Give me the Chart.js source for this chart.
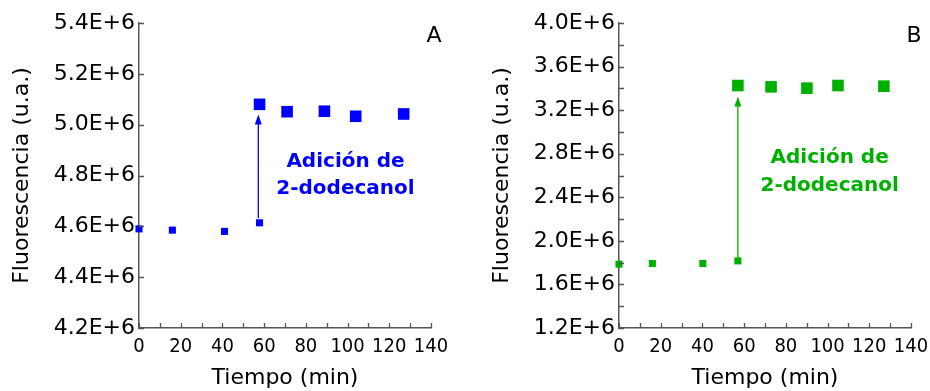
<!DOCTYPE html>
<html>
<head>
<meta charset="utf-8">
<script src="https://cdn.jsdelivr.net/npm/chart.js@4.4.0/dist/chart.umd.min.js"></script>
<style>
  html, body { margin: 0; padding: 0; background: #fff; }
  #wrap { position: relative; width: 930px; height: 391px; overflow: hidden; }
  canvas { position: absolute; top: 0; }
  #cA { left: 0; }
  #cB { left: 480px; }
</style>
</head>
<body>
<div id="wrap">
  <canvas id="cA" width="450" height="391"></canvas>
  <canvas id="cB" width="450" height="391"></canvas>
</div>
<script>
// ---- Data ----
const tiempoA_antes = [0, 16, 41, 57.8];
const fluorA_antes = [4.590e6, 4.585e6, 4.580e6, 4.614e6];
const tiempoA_despues = [57.8, 71, 88.9, 103.9, 126.9];
const fluorA_despues = [5.080e6, 5.051e6, 5.053e6, 5.033e6, 5.042e6];

const tiempoB_antes = [0, 16, 40.2, 57];
const fluorB_antes = [1.786e6, 1.792e6, 1.792e6, 1.816e6];
const tiempoB_despues = [57, 72.9, 90.1, 105, 127];
const fluorB_despues = [3.426e6, 3.414e6, 3.402e6, 3.426e6, 3.420e6];

// axis ranges / ticks
const xRange = [0, 140];
const xStep = 20;
const yRangeA = [4.2e6, 5.4e6];
const yStepA = 0.2e6;
const yRangeB = [1.2e6, 4.0e6];
const yStepB = 0.4e6;

// annotations (data coordinates)
const arrowA = { x: 57.2, y0: 4.632e6, y1: 5.040e6 };
const arrowB = { x: 57.0, y0: 1.840e6, y1: 3.325e6 };
const textLines = ["Adición de", "2-dodecanol"];
const textA = { x: 99, y: [4.853e6, 4.746e6] };
const textB = { x: 101, y: [2.76e6, 2.51e6] };

const BLUE = '#0000ff';
const GREEN = '#00b000';
const AXIS = '#555555';

function pts(xs, ys) { return xs.map((x, i) => ({ x: x, y: ys[i] })); }

const decorPlugin = {
  id: 'decor',
  afterDatasetsDraw(chart, args, opts) {
    const ctx = chart.ctx;
    const xs = chart.scales.x, ys = chart.scales.y;
    const ca = chart.chartArea;
    ctx.save();
    // inward ticks
    ctx.strokeStyle = AXIS;
    ctx.lineWidth = 1.3;
    ctx.beginPath();
    for (let v = xs.min; v <= xs.max + 1e-9; v += opts.xMinor) {
      const px = Math.round(xs.getPixelForValue(v)) + 0.5;
      ctx.moveTo(px, ca.bottom);
      ctx.lineTo(px, ca.bottom - 5);
    }
    for (let v = ys.min; v <= ys.max + 1; v += opts.yMinor) {
      const py = Math.round(ys.getPixelForValue(v)) + 0.5;
      ctx.moveTo(ca.left, py);
      ctx.lineTo(ca.left + 5, py);
    }
    ctx.stroke();

    // arrow
    const a = opts.arrow;
    const ax = xs.getPixelForValue(a.x);
    const ay0 = ys.getPixelForValue(a.y0);
    const ay1 = ys.getPixelForValue(a.y1);
    ctx.strokeStyle = opts.color;
    ctx.fillStyle = opts.color;
    ctx.lineWidth = 1.3;
    ctx.beginPath();
    ctx.moveTo(ax, ay0);
    ctx.lineTo(ax, ay1 + 8);
    ctx.stroke();
    ctx.beginPath();
    ctx.moveTo(ax, ay1);
    ctx.lineTo(ax - 3.5, ay1 + 10);
    ctx.lineTo(ax + 3.5, ay1 + 10);
    ctx.closePath();
    ctx.fill();

    // text
    ctx.font = 'bold 20px "DejaVu Sans"';
    ctx.textAlign = 'center';
    ctx.textBaseline = 'middle';
    const tx = xs.getPixelForValue(opts.text.x);
    textLines.forEach((t, i) => {
      ctx.fillText(t, tx, ys.getPixelForValue(opts.text.y[i]));
    });

    // panel letter
    ctx.fillStyle = '#000';
    ctx.font = '22px "DejaVu Sans"';
    ctx.fillText(opts.letter, ca.right + 3, ca.top + 13);
    ctx.restore();
  }
};

function makeChart(id, color, antesX, antesY, despX, despY, yRange, yStep, yMinor, arrow, text, letter) {
  return new Chart(document.getElementById(id), {
    type: 'scatter',
    data: {
      datasets: [
        { data: pts(antesX, antesY), pointStyle: 'rect', pointRadius: 5, pointHoverRadius: 5,
          backgroundColor: color, borderWidth: 0, showLine: false, clip: false },
        { data: pts(despX, despY), pointStyle: 'rect', pointRadius: 8.2, pointHoverRadius: 8.2,
          backgroundColor: color, borderWidth: 0, showLine: false, clip: false }
      ]
    },
    options: {
      responsive: false,
      devicePixelRatio: 1,
      animation: false,
      events: [],
      layout: { padding: { top: 23, right: 19, left: 0, bottom: 0 } },
      plugins: {
        legend: { display: false },
        tooltip: { enabled: false },
        decor: { color: color, arrow: arrow, text: text, letter: letter, xMinor: 10, yMinor: yMinor }
      },
      scales: {
        x: {
          type: 'linear', min: xRange[0], max: xRange[1],
          afterFit: (s) => { s.height = 63; s.paddingRight = 0; s.paddingLeft = 0; },
          ticks: { stepSize: xStep, color: '#000', padding: 7, maxRotation: 0,
                   font: { family: '"DejaVu Sans Condensed", "DejaVu Sans"', size: 20 } },
          grid: { drawOnChartArea: false, drawTicks: false },
          border: { display: true, color: AXIS, width: 1.5 },
          title: { display: true, text: 'Tiempo (min)', color: '#000',
                   font: { family: '"DejaVu Sans"', size: 22 }, padding: { top: 0, bottom: 0 } }
        },
        y: {
          type: 'linear', min: yRange[0], max: yRange[1],
          afterFit: (s) => { s.width = 139; s.paddingTop = 0; s.paddingBottom = 0; },
          ticks: { stepSize: yStep, color: '#000', padding: 4,
                   font: { family: '"DejaVu Sans"', size: 22 },
                   callback: (v) => (v / 1e6).toFixed(1) + 'E+6' },
          grid: { drawOnChartArea: false, drawTicks: false },
          border: { display: true, color: AXIS, width: 1.5 },
          title: { display: true, text: 'Fluorescencia (u.a.)', color: '#000',
                   font: { family: '"DejaVu Sans"', size: 22 }, padding: { top: 9, bottom: 0 } }
        }
      }
    },
    plugins: [decorPlugin]
  });
}

makeChart('cA', BLUE, tiempoA_antes, fluorA_antes, tiempoA_despues, fluorA_despues,
          yRangeA, yStepA, 0.2e6, arrowA, textA, 'A');
makeChart('cB', GREEN, tiempoB_antes, fluorB_antes, tiempoB_despues, fluorB_despues,
          yRangeB, yStepB, 0.2e6, arrowB, textB, 'B');
</script>
</body>
</html>
